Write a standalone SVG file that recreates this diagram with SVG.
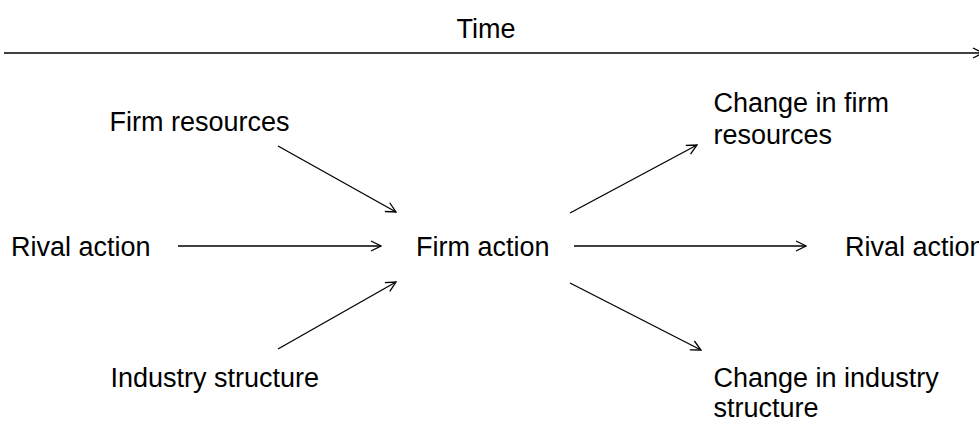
<svg xmlns="http://www.w3.org/2000/svg" width="979" height="421" viewBox="0 0 979 421">
  <style>
    .lbl { font-family: "Liberation Sans", Arial, sans-serif; font-size: 27px; fill: #000; }
    .conn { stroke: #000; stroke-width: 1.3; fill: none; marker-end: url(#open); }
  </style>
  <defs>
    <marker id="open" viewBox="0 0 12 12" refX="11" refY="6" markerWidth="12" markerHeight="12" markerUnits="userSpaceOnUse" orient="auto">
      <path d="M1,1 L11,6 L1,11" fill="none" stroke="#000" stroke-width="1.3"/>
    </marker>
  </defs>

  <rect width="979" height="421" fill="#fff"/>

  <!-- time axis label -->
  <g id="time">
    <text class="lbl" x="486" y="38" text-anchor="middle">Time</text>
  </g>

  <g id="firm-resources">
    <text class="lbl" x="109.5" y="131">Firm resources</text>
  </g>
  <g id="rival-action-in">
    <text class="lbl" x="11" y="256">Rival action</text>
  </g>
  <g id="industry-structure">
    <text class="lbl" x="110.5" y="387">Industry structure</text>
  </g>
  <g id="firm-action">
    <text class="lbl" x="416" y="256">Firm action</text>
  </g>
  <g id="change-firm-resources">
    <text class="lbl" x="713.5" y="112">Change in firm</text>
    <text class="lbl" x="713.5" y="144">resources</text>
  </g>
  <g id="rival-action-out">
    <text class="lbl" x="845" y="256">Rival action</text>
  </g>
  <g id="change-industry-structure">
    <text class="lbl" x="713.5" y="387">Change in industry</text>
    <text class="lbl" x="713.5" y="417">structure</text>
  </g>

  <g id="connectors">
    <line class="conn" x1="4" y1="53" x2="983" y2="53"/>
    <line class="conn" x1="278" y1="146" x2="396" y2="212"/>
    <line class="conn" x1="178" y1="246" x2="381" y2="246"/>
    <line class="conn" x1="278" y1="349" x2="396" y2="282"/>
    <line class="conn" x1="570" y1="213" x2="697" y2="145"/>
    <line class="conn" x1="574" y1="246" x2="806" y2="246"/>
    <line class="conn" x1="570" y1="283" x2="701" y2="350"/>
  </g>
</svg>
